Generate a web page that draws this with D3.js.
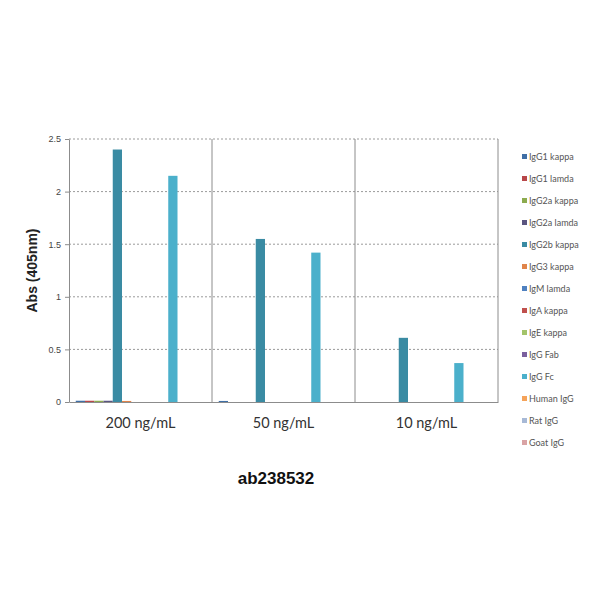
<!DOCTYPE html>
<html>
<head>
<meta charset="utf-8">
<script src="https://cdn.jsdelivr.net/npm/d3@7"></script>
<style>
  body { margin: 0; background: #fff; }
  svg { display: block; }
</style>
</head>
<body>
<svg id="chart"></svg>
<script>
// Chart data
const groups = ["200 ng/mL", "50 ng/mL", "10 ng/mL"];
const series = ["IgG1 kappa", "IgG1 lamda", "IgG2a kappa", "IgG2a lamda", "IgG2b kappa",
                "IgG3 kappa", "IgM lamda", "IgA kappa", "IgE kappa", "IgG Fab",
                "IgG Fc", "Human IgG", "Rat IgG", "Goat IgG"];
const colors = ["#3f6fa6", "#b8474a", "#8cab4f", "#5a5580", "#3a8ba3",
                "#e0844a", "#4f81c0", "#c0504d", "#a3c46a", "#7a5f9e",
                "#4bb0cb", "#f5a35a", "#a7b9d6", "#d9a3a5"];
// values per group, in series order
const values200 = [0.012, 0.012, 0.012, 0.012, 2.40, 0.01, 0, 0, 0, 0, 2.15, 0, 0, 0];
const values50  = [0.01, 0, 0, 0, 1.55, 0, 0, 0, 0, 0, 1.42, 0, 0, 0];
const values10  = [0, 0, 0, 0, 0.61, 0, 0, 0, 0, 0, 0.37, 0, 0, 0];
const yTicks = [0, 0.5, 1, 1.5, 2, 2.5];
const chartTitle = "ab238532";
const yTitle = "Abs (405nm)";

const allValues = [values200, values50, values10];

const svg = d3.select("#chart").attr("width", 600).attr("height", 600);
svg.append("rect").attr("width", 600).attr("height", 600).attr("fill", "#fff");

// plot area
const plotLeft = 69, plotRight = 498, plotTop = 139, plotBottom = 402;

const x0 = d3.scaleBand().domain(groups).range([plotLeft, plotRight]).padding(0);
const x1 = d3.scaleBand().domain(series).range([0, x0.bandwidth()])
             .paddingInner(0).paddingOuter(0.73);
const y = d3.scaleLinear().domain([0, 2.5]).range([plotBottom, plotTop]);

// horizontal gridlines (dotted)
svg.append("g").selectAll("line")
   .data(yTicks.filter(t => t > 0))
   .join("line")
   .attr("x1", plotLeft).attr("x2", plotRight)
   .attr("y1", d => y(d)).attr("y2", d => y(d))
   .attr("stroke", "#9a9a9a")
   .attr("stroke-width", 1)
   .attr("stroke-dasharray", "2,2");

// vertical category dividers + right border
svg.append("g").selectAll("line")
   .data(groups.slice(1).map(g => x0(g)).concat([plotRight]))
   .join("line")
   .attr("x1", d => d).attr("x2", d => d)
   .attr("y1", plotTop).attr("y2", plotBottom)
   .attr("stroke", "#8c8c8c")
   .attr("stroke-width", 1);

// bars
const gGroups = svg.append("g").selectAll("g")
   .data(groups)
   .join("g")
   .attr("transform", d => `translate(${x0(d)},0)`);

gGroups.selectAll("rect")
   .data((g, gi) => series.map((s, i) => ({ s, i, v: allValues[gi][i] })))
   .join("rect")
   .attr("x", d => x1(d.s))
   .attr("width", x1.bandwidth())
   .attr("y", d => y(d.v))
   .attr("height", d => plotBottom - y(d.v))
   .attr("fill", d => colors[d.i]);

// y axis
const yAxis = svg.append("g")
   .attr("transform", `translate(${plotLeft},0)`)
   .call(d3.axisLeft(y).tickValues(yTicks).tickSize(4).tickSizeOuter(0)
           .tickFormat(d => d));
yAxis.select(".domain").attr("stroke", "#8c8c8c");
yAxis.selectAll(".tick line").attr("stroke", "#8c8c8c");
yAxis.selectAll("text")
   .attr("font-family", "Liberation Sans, Arial, sans-serif")
   .attr("font-size", 9)
   .attr("fill", "#444")
   .attr("x", -8);

// x axis
const xAxis = svg.append("g")
   .attr("transform", `translate(0,${plotBottom})`)
   .call(d3.axisBottom(x0).tickSize(0).tickSizeOuter(0));
xAxis.select(".domain").attr("stroke", "#8c8c8c");
xAxis.selectAll("text")
   .attr("font-family", "Lato, 'Open Sans', sans-serif")
   .attr("font-size", 14.5)
   .attr("fill", "#333")
   .attr("dy", "1.6em");

// axis titles
svg.append("text")
   .attr("transform", `translate(37,${(plotTop + plotBottom) / 2}) rotate(-90)`)
   .attr("text-anchor", "middle")
   .attr("font-family", "Liberation Sans, Arial, sans-serif")
   .attr("font-weight", "bold")
   .attr("font-size", 14)
   .attr("fill", "#222")
   .text(yTitle);

svg.append("text")
   .attr("x", 276).attr("y", 484)
   .attr("text-anchor", "middle")
   .attr("font-family", "Liberation Sans, Arial, sans-serif")
   .attr("font-weight", "bold")
   .attr("font-size", 17)
   .attr("fill", "#111")
   .text(chartTitle);

// legend
const legend = svg.append("g").selectAll("g")
   .data(series)
   .join("g")
   .attr("transform", (d, i) => `translate(522,${157 + i * 22})`);

legend.append("rect")
   .attr("x", 0).attr("y", -3)
   .attr("width", 5).attr("height", 5)
   .attr("fill", (d, i) => colors[i]);

legend.append("text")
   .attr("x", 7).attr("y", 0)
   .attr("dy", "0.35em")
   .attr("font-family", "Lato, sans-serif")
   .attr("font-size", 9)
   .attr("fill", "#555")
   .text(d => d);
</script>
</body>
</html>
